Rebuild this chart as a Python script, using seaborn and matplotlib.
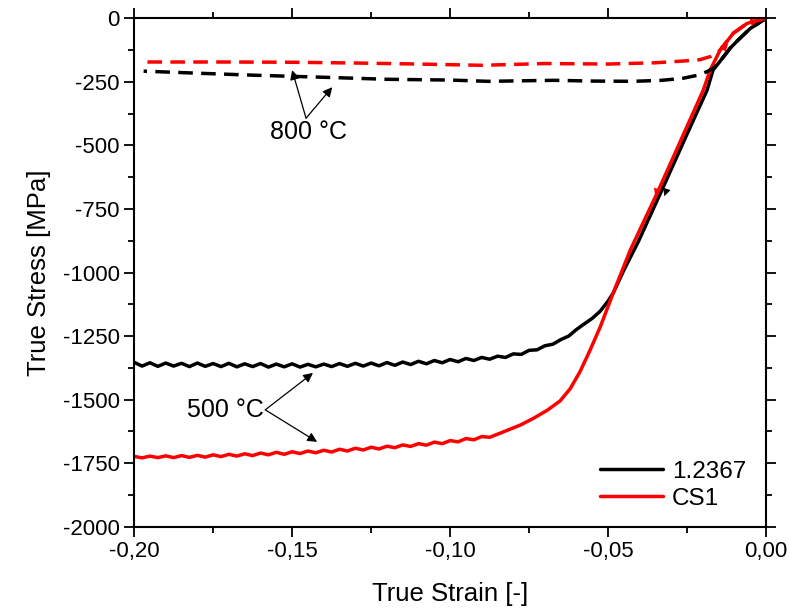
import matplotlib
matplotlib.use("Agg")
import matplotlib.pyplot as plt
from matplotlib.ticker import MultipleLocator, FuncFormatter
from matplotlib.lines import Line2D
import seaborn as sns
import pandas as pd

# 500 °C, 1.2367 (schwarz, durchgezogen)
strain_500_ref = [
    -0.2000, -0.1975, -0.1950, -0.1925, -0.1900, -0.1875, -0.1850, -0.1825,
    -0.1800, -0.1775, -0.1750, -0.1725, -0.1700, -0.1675, -0.1650, -0.1625,
    -0.1600, -0.1575, -0.1550, -0.1525, -0.1500, -0.1475, -0.1450, -0.1425,
    -0.1400, -0.1375, -0.1350, -0.1325, -0.1300, -0.1275, -0.1250, -0.1225,
    -0.1200, -0.1175, -0.1150, -0.1125, -0.1100, -0.1075, -0.1050, -0.1025,
    -0.1000, -0.0975, -0.0950, -0.0925, -0.0900, -0.0875, -0.0850, -0.0825,
    -0.0800, -0.0775, -0.0750, -0.0725, -0.0700, -0.0675, -0.0650, -0.0625,
    -0.0600, -0.0580, -0.0550, -0.0525, -0.0500, -0.0484, -0.0450, -0.0405,
    -0.0326, -0.0250, -0.0187, -0.0168, -0.0140, -0.0114, -0.0089, -0.0050,
    0.0000,
]
stress_500_ref = [
    -1353, -1368, -1355, -1369, -1356, -1368, -1357, -1370,
    -1356, -1369, -1358, -1370, -1357, -1371, -1359, -1370,
    -1358, -1372, -1360, -1371, -1359, -1372, -1361, -1371,
    -1360, -1370, -1358, -1369, -1357, -1368, -1356, -1367,
    -1354, -1365, -1352, -1362, -1349, -1359, -1346, -1355,
    -1342, -1351, -1338, -1346, -1334, -1341, -1329, -1334,
    -1320, -1322, -1306, -1304, -1288, -1282, -1264, -1250,
    -1224, -1206, -1180, -1152, -1112, -1081, -990, -880,
    -665, -455, -283, -204, -160, -118, -86, -40,
    0,
]

# 500 °C, CS1 (rot, durchgezogen)
strain_500_cs1 = [
    -0.2000, -0.1975, -0.1950, -0.1925, -0.1900, -0.1875, -0.1850, -0.1825,
    -0.1800, -0.1775, -0.1750, -0.1725, -0.1700, -0.1675, -0.1650, -0.1625,
    -0.1600, -0.1575, -0.1550, -0.1525, -0.1500, -0.1475, -0.1450, -0.1425,
    -0.1400, -0.1375, -0.1350, -0.1325, -0.1300, -0.1275, -0.1250, -0.1225,
    -0.1200, -0.1175, -0.1150, -0.1125, -0.1100, -0.1075, -0.1050, -0.1025,
    -0.1000, -0.0975, -0.0950, -0.0925, -0.0900, -0.0875, -0.0850, -0.0820,
    -0.0778, -0.0737, -0.0693, -0.0652, -0.0620, -0.0589, -0.0557, -0.0525,
    -0.0484, -0.0430, -0.0345, -0.0270, -0.0199, -0.0177, -0.0146, -0.0104,
    -0.0060, 0.0000,
]
stress_500_cs1 = [
    -1723, -1729, -1722, -1728, -1721, -1728, -1720, -1727,
    -1719, -1726, -1717, -1724, -1715, -1722, -1713, -1720,
    -1710, -1717, -1707, -1715, -1705, -1712, -1702, -1709,
    -1699, -1706, -1695, -1702, -1691, -1698, -1687, -1694,
    -1683, -1689, -1678, -1684, -1673, -1679, -1667, -1673,
    -1661, -1666, -1653, -1658, -1645, -1648, -1636, -1621,
    -1600, -1574, -1542, -1505, -1457, -1390, -1305, -1214,
    -1081, -912, -688, -480, -283, -204, -126, -59,
    -20, 0,
]

# 800 °C, 1.2367 (schwarz, gestrichelt)
strain_800_ref = [
    0.0000, -0.0050, -0.0089, -0.0114, -0.0136, -0.0165, -0.0187, -0.0220,
    -0.0263, -0.0330, -0.0420, -0.0550, -0.0670, -0.0880, -0.1000, -0.1200,
    -0.1400, -0.1620, -0.1800, -0.1970,
]
stress_800_ref = [
    0, -40, -86, -118, -153, -195, -210, -225,
    -236, -244, -248, -247, -244, -248, -243, -240,
    -232, -224, -216, -208,
]

# 800 °C, CS1 (rot, gestrichelt)
strain_800_cs1 = [
    0.0000, -0.0060, -0.0104, -0.0146, -0.0175, -0.0210, -0.0260, -0.0350,
    -0.0500, -0.0700, -0.0900, -0.1100, -0.1300, -0.1500, -0.1700, -0.1970,
]
stress_800_cs1 = [
    0, -20, -59, -126, -150, -163, -168, -175,
    -180, -178, -185, -180, -176, -173, -172, -172,
]

sns.set_style("ticks")
plt.rcParams["font.family"] = ["Liberation Sans", "DejaVu Sans"]
plt.rcParams["axes.unicode_minus"] = False
plt.rcParams["text.color"] = "black"
plt.rcParams["axes.labelcolor"] = "black"

fig = plt.figure(figsize=(7.89, 6.09), dpi=100)
ax = fig.add_axes([0.170, 0.135, 0.801, 0.835])

lw = 2.5
curves = [
    (strain_500_ref, stress_500_ref, "black", "-"),
    (strain_500_cs1, stress_500_cs1, "#ff0000", "-"),
    (strain_800_ref, stress_800_ref, "black", (0, (4.2, 2.4))),
    (strain_800_cs1, stress_800_cs1, "#ff0000", (0, (4.2, 2.4))),
]
for xs, ys, col, ls in curves:
    df = pd.DataFrame({"strain": xs, "stress": ys})
    sns.lineplot(data=df, x="strain", y="stress", sort=False, estimator=None,
                 color=col, linestyle=ls, linewidth=lw, ax=ax)

ax.set_xlim(-0.2, 0.0)
ax.set_ylim(-2000, 0)
ax.xaxis.set_major_locator(MultipleLocator(0.05))
ax.xaxis.set_minor_locator(MultipleLocator(0.025))
ax.yaxis.set_major_locator(MultipleLocator(250))
ax.yaxis.set_minor_locator(MultipleLocator(125))


def comma_fmt(v, pos):
    if abs(v) < 1e-9:
        return "0,00"
    return f"{v:.2f}".replace(".", ",")


ax.xaxis.set_major_formatter(FuncFormatter(comma_fmt))
ax.yaxis.set_major_formatter(FuncFormatter(lambda v, p: f"{int(round(v))}"))

ax.tick_params(which="both", direction="out", top=True, right=True,
               width=1.3, colors="black", labelsize=16)
ax.tick_params(which="major", length=7)
ax.tick_params(which="minor", length=4)
for sp in ax.spines.values():
    sp.set_linewidth(1.5)
    sp.set_color("black")
    sp.set_visible(True)

ax.set_xlabel("True Strain [-]", fontsize=18.5, labelpad=14)
ax.set_ylabel("True Stress [MPa]", fontsize=18.5, labelpad=8)

# Temperatur-Beschriftungen mit Pfeilen
arrow_kw = dict(arrowstyle="-|>", color="black", lw=0.9, mutation_scale=14,
                shrinkA=0, shrinkB=0)
ax.annotate("", xy=(-0.1500, -204), xytext=(-0.1456, -393), arrowprops=arrow_kw)
ax.annotate("", xy=(-0.1373, -271), xytext=(-0.1456, -393), arrowprops=arrow_kw)
ax.text(-0.1449, -400, "800 °C", ha="center", va="top", fontsize=18)

ax.annotate("", xy=(-0.1434, -1395), xytext=(-0.1585, -1540), arrowprops=arrow_kw)
ax.annotate("", xy=(-0.1421, -1666), xytext=(-0.1585, -1540), arrowprops=arrow_kw)
ax.text(-0.1590, -1540, "500 °C", ha="right", va="center", fontsize=18)

# kleine Richtungspfeile auf den Belastungsästen
head_kw = dict(arrowstyle="-|>", lw=0, mutation_scale=14, shrinkA=0, shrinkB=0)
ax.annotate("", xy=(-0.0351, -700), xytext=(-0.0343, -670),
            arrowprops=dict(head_kw, color="#ff0000"))
ax.annotate("", xy=(-0.0322, -700), xytext=(-0.0314, -670),
            arrowprops=dict(head_kw, color="black"))
ax.annotate("", xy=(-0.0120, -100), xytext=(-0.0140, -125),
            arrowprops=dict(head_kw, color="#ff0000"))
ax.annotate("", xy=(-0.0025, -8), xytext=(-0.0060, -20),
            arrowprops=dict(head_kw, color="#ff0000"))

handles = [Line2D([], [], color="black", lw=lw),
           Line2D([], [], color="#ff0000", lw=lw)]
ax.legend(handles, ["1.2367", "CS1"], loc="lower right",
          bbox_to_anchor=(0.995, 0.0), frameon=False, fontsize=17.5,
          handlelength=2.6, handletextpad=0.35, labelspacing=0.2,
          borderaxespad=0.3)

fig.savefig("out.png", dpi=100)
